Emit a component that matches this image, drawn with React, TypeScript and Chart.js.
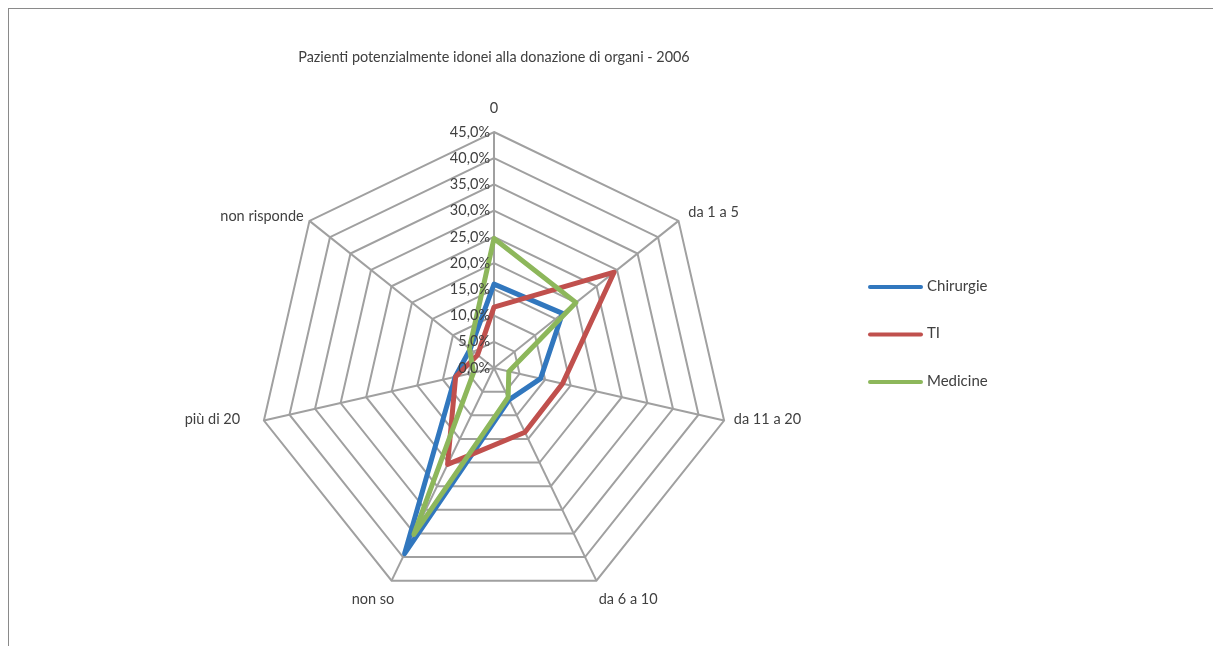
import React, { useEffect, useRef } from "react";
import { Chart, registerables } from "chart.js";

Chart.register(...registerables);

const categories = ["0", "da 1 a 5", "da 11 a 20", "da 6 a 10", "non so", "più di 20", "non risponde"];
const seriesNames = ["Chirurgie", "TI", "Medicine"];
const chirurgie = [16.0, 16.7, 9.1, 6.7, 39.3, 7.6, 5.8];
const ti = [11.6, 29.3, 13.4, 13.6, 20.4, 7.5, 4.0];
const medicine = [24.7, 20.0, 2.9, 6.2, 35.2, 4.0, 6.0];
const tickLabels = ["0,0%", "5,0%", "10,0%", "15,0%", "20,0%", "25,0%", "30,0%", "35,0%", "40,0%", "45,0%"];
const titleText = "Pazienti potenzialmente idonei alla donazione di organi - 2006";

const seriesColors = ["#3177be", "#c0504d", "#8db75b"];
const textColor = "#404040";
const gridColor = "#a0a0a0";
const FONT = "Lato, 'Open Sans', sans-serif";

// small per-label nudges mimicking the spreadsheet's label placement
const labelNudges: [number, number][] = [
  [0, -6],
  [2, -2],
  [0, -3],
  [-2, 2],
  [7, 2],
  [-14, -3],
  [2, 2],
];

const overlayPlugin = {
  id: "overlay",
  afterDatasetsDraw(chart: any) {
    const ctx = chart.ctx as CanvasRenderingContext2D;
    const scale = chart.scales.r;
    ctx.save();
    // tick labels
    ctx.font = `14.5px ${FONT}`;
    ctx.fillStyle = textColor;
    ctx.textAlign = "right";
    ctx.textBaseline = "middle";
    scale.ticks.forEach((t: any) => {
      const d = scale.getDistanceFromCenterForValue(t.value);
      ctx.fillText(t.label, scale.xCenter - 4, scale.yCenter - d);
    });
    // point labels
    const labels: string[] = chart.data.labels;
    labels.forEach((lab, i) => {
      const p = scale.getPointPosition(i, scale.drawingArea + 10);
      const dx = p.x - scale.xCenter;
      const dy = p.y - scale.yCenter;
      ctx.textAlign = Math.abs(dx) < 5 ? "center" : dx > 0 ? "left" : "right";
      ctx.textBaseline = dy < -scale.drawingArea * 0.9 ? "bottom" : dy > scale.drawingArea * 0.8 ? "top" : "middle";
      const n = labelNudges[i] || [0, 0];
      ctx.fillText(lab, p.x + n[0], p.y + n[1]);
    });
    // legend
    ctx.font = `15px ${FONT}`;
    const lx = 870;
    const ly = 287;
    const step = 47.5;
    chart.data.datasets.forEach((ds: any, i: number) => {
      const y = ly + i * step;
      ctx.strokeStyle = ds.borderColor;
      ctx.lineWidth = 4;
      ctx.lineCap = "round";
      ctx.beginPath();
      ctx.moveTo(lx, y);
      ctx.lineTo(lx + 51, y);
      ctx.stroke();
      ctx.fillStyle = textColor;
      ctx.textAlign = "left";
      ctx.textBaseline = "middle";
      ctx.fillText(ds.label, lx + 57, y - 1);
    });
    ctx.restore();
  },
};

export default function App() {
  const ref = useRef<HTMLCanvasElement | null>(null);
  useEffect(() => {
    if (!ref.current) return;
    const values = [chirurgie, ti, medicine];
    const chart = new Chart(ref.current, {
      type: "radar",
      data: {
        labels: categories,
        datasets: values.map((v, i) => ({
          label: seriesNames[i],
          data: v,
          borderColor: seriesColors[i],
          backgroundColor: seriesColors[i],
          borderWidth: 5,
          borderJoinStyle: "round" as const,
          fill: false,
          pointRadius: 0,
          pointHoverRadius: 0,
          tension: 0,
          order: 3 - i,
        })),
      },
      options: {
        responsive: false,
        animation: false,
        layout: { padding: { left: 0, right: 225, top: 0, bottom: 41 } },
        plugins: {
          legend: { display: false },
          tooltip: { enabled: false },
          title: {
            display: true,
            text: titleText,
            fullSize: false,
            color: textColor,
            font: { family: FONT, size: 14.4, weight: "normal" },
            padding: { top: 49, bottom: 66.7 },
          },
        },
        scales: {
          r: {
            min: 0,
            max: 45,
            ticks: {
              stepSize: 5,
              display: false,
              callback: (_v: any, i: number) => tickLabels[i],
            },
            grid: { color: gridColor, lineWidth: 2 },
            angleLines: { color: gridColor, lineWidth: 2 },
            pointLabels: { display: false },
          },
        },
      },
      plugins: [overlayPlugin],
    });
    return () => chart.destroy();
  }, []);

  return (
    <div style={{ position: "fixed", left: 0, top: 0, width: 1213, height: 646, overflow: "hidden", background: "#fff" }}>
      <div
        style={{
          position: "absolute",
          left: 8,
          top: 8,
          width: 2000,
          height: 2000,
          borderLeft: "1px solid #8a8a8a",
          borderTop: "1px solid #8a8a8a",
        }}
      />
      <canvas ref={ref} width={1213} height={646} style={{ position: "absolute", left: 0, top: 0, display: "block" }} />
    </div>
  );
}
